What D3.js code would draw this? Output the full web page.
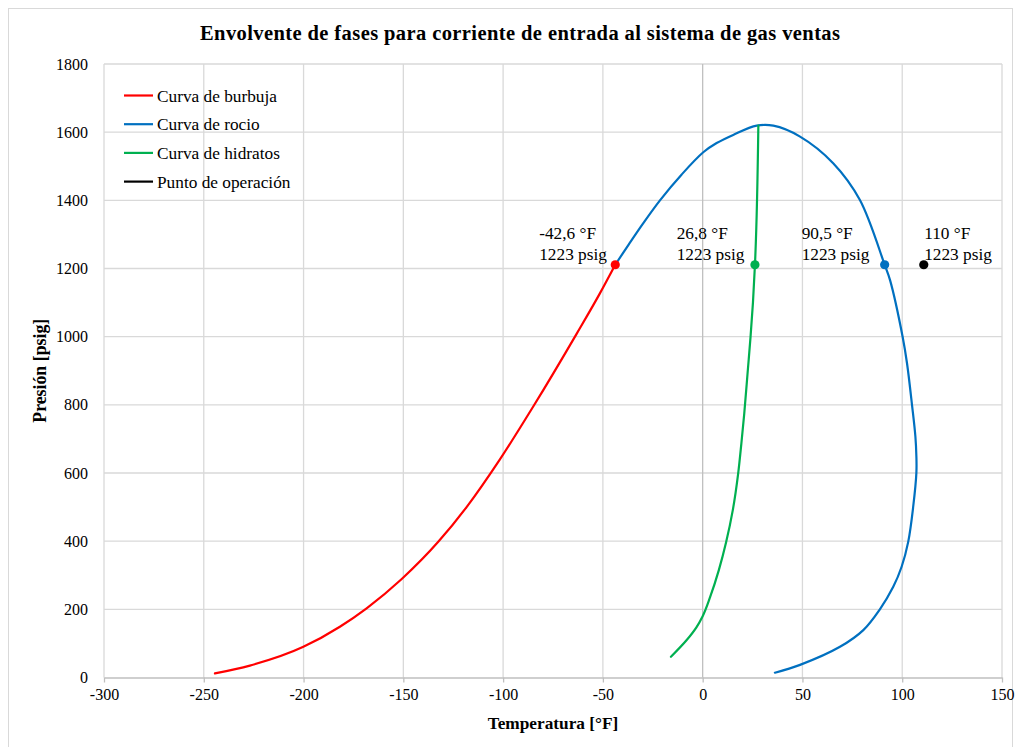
<!DOCTYPE html>
<html>
<head>
<meta charset="utf-8">
<script src="https://cdn.jsdelivr.net/npm/d3@7"></script>
<style>
  html, body { margin: 0; padding: 0; background: #fff; }
  svg { display: block; }
  text { font-family: "Liberation Serif", "Times New Roman", serif; fill: #000; }
</style>
</head>
<body>
<svg id="chart" width="1019" height="747"></svg>
<script>
// ---------- DATA ----------
const titleText = "Envolvente de fases para corriente de entrada al sistema de gas ventas";
const xTitle = "Temperatura [°F]";
const yTitle = "Presión [psig]";

const xTicks = [-300, -250, -200, -150, -100, -50, 0, 50, 100, 150];
const yTicks = [0, 200, 400, 600, 800, 1000, 1200, 1400, 1600, 1800];

// Curva de burbuja (T °F, P psig)
const bubbleT = [-244.4, -226.9, -200.1, -181.8, -168.4, -150.8, -132.5, -118.3, -101.6, -84.9, -63.1, -51.5, -43.8];
const bubbleP = [12, 35, 90, 149, 203, 289, 398, 500, 640, 795, 1009, 1127, 1211];

// Curva de rocio
const dewT = [-43.8, -37, -30, -21.4, -10.5, 0.3, 7, 15.3, 27.1, 35.4, 48.8, 65.4, 78.8, 91.2, 93.9, 100.2, 102.4, 104.9, 106.6, 107.1, 107.1, 105.5, 103, 99.7, 95.5, 88.8, 80.5, 68.8, 48.8, 36.2];
const dewP = [1211, 1271, 1331, 1400, 1476, 1541, 1568, 1592, 1619, 1619, 1587, 1509, 1401, 1211, 1166, 1000, 922, 800, 707, 648, 601, 501, 398, 325, 266, 200, 139, 90, 37, 14];

// Curva de hidratos
const hydT = [-15.9, -8, -3.05, 0, 3.8, 8.1, 11.8, 15.1, 17.8, 19.4, 20.85, 22.6, 24, 25.2, 26.2, 27.9];
const hydP = [61, 110, 148, 180, 237, 315, 398, 491, 599, 687, 775, 900, 1000, 1100, 1211, 1619];

// Puntos de operación
const opT = [-43.8, 26.2, 91.2, 110.8];
const opP = [1211, 1211, 1211, 1211];
const opColors = ["#ff0000", "#00b050", "#0070c0", "#000000"];
const opLabel1 = ["-42,6 °F", "26,8 °F", "90,5 °F", "110 °F"];
const opLabel2 = ["1223 psig", "1223 psig", "1223 psig", "1223 psig"];
const opLabelX = [-81.9, -13.0, 49.6, 111.0];

const legendNames = ["Curva de burbuja", "Curva de rocio", "Curva de hidratos", "Punto de operación"];
const legendColors = ["#ff0000", "#0070c0", "#00b050", "#000000"];

// ---------- LAYOUT ----------
const svg = d3.select("#chart");
const L = 104, R = 1002, T = 64, B = 677.5;

const x = d3.scaleLinear().domain([-300, 150]).range([L, R]);
const y = d3.scaleLinear().domain([0, 1800]).range([B, T]);

// chart border
svg.append("rect").attr("x", 8.5).attr("y", 8.5).attr("width", 1004).attr("height", 745)
  .attr("fill", "none").attr("stroke", "#d9d9d9").attr("stroke-width", 1);

// gridlines
const grid = svg.append("g");
grid.selectAll(".vg").data(xTicks.filter(d => d !== 0)).enter().append("line")
  .attr("x1", d => x(d)).attr("x2", d => x(d)).attr("y1", T).attr("y2", B)
  .attr("stroke", "#d9d9d9").attr("stroke-width", 1.3);
grid.selectAll(".hg").data(yTicks.filter(d => d !== 0)).enter().append("line")
  .attr("x1", L).attr("x2", R).attr("y1", d => y(d)).attr("y2", d => y(d))
  .attr("stroke", "#d9d9d9").attr("stroke-width", 1.3);

const fmt = d => String(d);

// x axis (at P=0)
const xAxis = d3.axisBottom(x).tickValues(xTicks).tickFormat(fmt).tickSize(5).tickSizeOuter(0).tickPadding(6);
const gx = svg.append("g").attr("transform", `translate(0,${y(0)})`).call(xAxis);
gx.select(".domain").attr("stroke", "#bfbfbf").attr("stroke-width", 1.3);
gx.selectAll(".tick line").attr("stroke", "#bfbfbf").attr("stroke-width", 1.3);
gx.selectAll(".tick text").attr("font-size", "16px").attr("font-family", "Liberation Serif").attr("fill", "#000");

// y axis line at T=0
svg.append("line").attr("x1", x(0)).attr("x2", x(0)).attr("y1", T).attr("y2", B)
  .attr("stroke", "#bfbfbf").attr("stroke-width", 1.3);

// y tick labels at left
const yAxis = d3.axisLeft(y).tickValues(yTicks).tickFormat(fmt).tickSize(0).tickPadding(16);
const gy = svg.append("g").attr("transform", `translate(${L},0)`).call(yAxis);
gy.select(".domain").remove();
gy.selectAll(".tick text").attr("font-size", "16px").attr("font-family", "Liberation Serif").attr("fill", "#000");

// titles
svg.append("text").attr("x", 520).attr("y", 40).attr("text-anchor", "middle")
  .attr("font-size", "20.5px").attr("font-weight", "bold")
  .attr("textLength", 640).attr("lengthAdjust", "spacing").text(titleText);
svg.append("text").attr("x", 553).attr("y", 729).attr("text-anchor", "middle")
  .attr("font-size", "17.3px").attr("font-weight", "bold").text(xTitle);
svg.append("text").attr("transform", `translate(46,${(T + B) / 2}) rotate(-90)`).attr("text-anchor", "middle")
  .attr("font-size", "17.8px").attr("font-weight", "bold").text(yTitle);

// curves
const lineXY = c => d3.line().x(d => x(d[0])).y(d => y(d[1])).curve(c);
const series = [
  { t: bubbleT, p: bubbleP, c: "#ff0000", k: d3.curveMonotoneX },
  { t: dewT, p: dewP, c: "#0070c0", k: d3.curveCatmullRom.alpha(0.5) },
  { t: hydT, p: hydP, c: "#00b050", k: d3.curveMonotoneY }
];
series.forEach(s => {
  svg.append("path").datum(s.t.map((t, i) => [t, s.p[i]]))
    .attr("d", lineXY(s.k)).attr("fill", "none").attr("stroke", s.c)
    .attr("stroke-width", 2.2).attr("stroke-linejoin", "round").attr("stroke-linecap", "round");
});

// operation points
svg.selectAll(".op").data(opT).enter().append("circle")
  .attr("cx", d => x(d)).attr("cy", (d, i) => y(opP[i])).attr("r", 4.6)
  .attr("fill", (d, i) => opColors[i]);

// labels
opLabelX.forEach((lx, i) => {
  svg.append("text").attr("x", x(lx)).attr("y", 239).attr("font-size", "17.3px").text(opLabel1[i]);
  svg.append("text").attr("x", x(lx)).attr("y", 259.5).attr("font-size", "17.3px").text(opLabel2[i]);
});

// legend
const lg = svg.append("g");
legendNames.forEach((n, i) => {
  const ly = 95.5 + i * 28.7;
  lg.append("line").attr("x1", 124).attr("x2", 153).attr("y1", ly).attr("y2", ly)
    .attr("stroke", legendColors[i]).attr("stroke-width", 2.2);
  lg.append("text").attr("x", 157).attr("y", ly + 6).attr("font-size", "17.3px").text(n);
});
</script>
</body>
</html>
